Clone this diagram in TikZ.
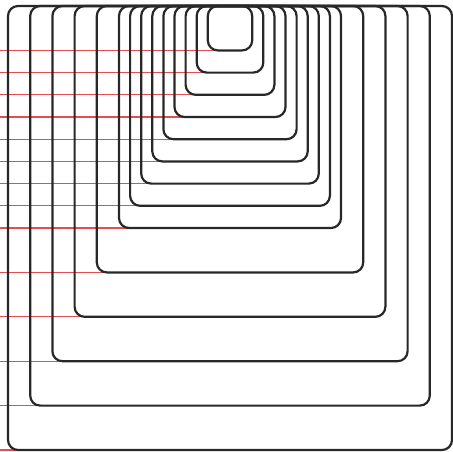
\documentclass[tikz,border=0pt]{standalone}
\definecolor{guide}{RGB}{228,78,82}
\definecolor{ink}{RGB}{40,40,40}
\begin{document}
\begin{tikzpicture}[x=1pt,y=-1pt,box/.style={draw=ink,line width=2.2pt,rounded corners=10pt},guideline/.style={draw=guide,line width=1.2pt}]
\useasboundingbox (0,0) rectangle (453,451);
\foreach \k in {0,...,8,10,12,14,16,18}{\coordinate (l\k) at (0,{6+22.2*(\k+2)});\coordinate (c\k) at ({240-11.1*(\k+2)},{6+22.2*(\k+2)});\draw[guideline] (l\k)--(c\k);}
\foreach \k in {0,...,8,10,12,14,16,18}{\draw[box] ({230-11.1*(\k+2)},6) rectangle ({230+11.1*(\k+2)},{6+22.2*(\k+2)});}
\end{tikzpicture}
\end{document}
